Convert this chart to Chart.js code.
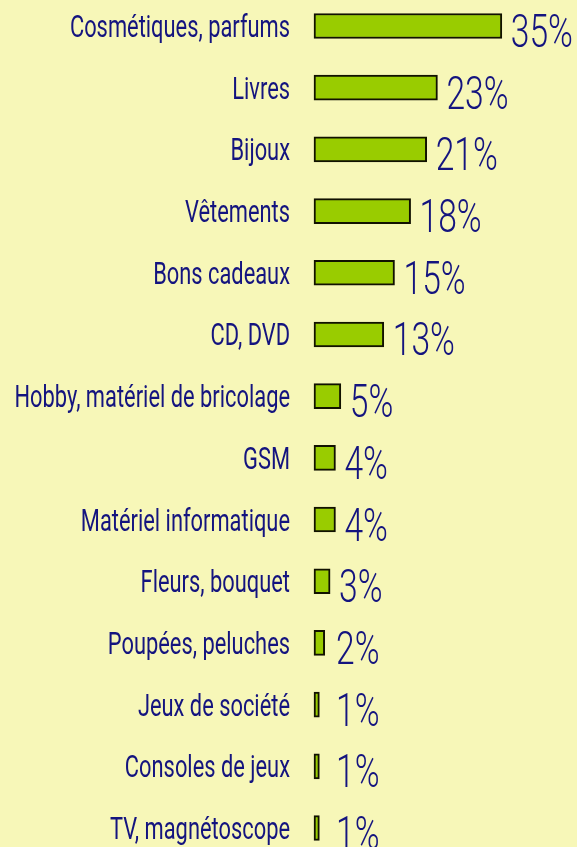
<!DOCTYPE html>
<html>
<head>
<meta charset="utf-8">
<script src="https://cdn.jsdelivr.net/npm/chart.js@4/dist/chart.umd.min.js"></script>
<style>
  html, body { margin: 0; padding: 0; background: #f7f7b8; }
  #wrap { width: 577px; height: 847px; }
</style>
</head>
<body>
<div id="wrap"><canvas id="chart"></canvas></div>
<script>
(function() {
    'use strict';

    // Data
    const categories = [
        'Cosmétiques, parfums', 'Livres', 'Bijoux', 'Vêtements', 'Bons cadeaux',
        'CD, DVD', 'Hobby, matériel de bricolage', 'GSM', 'Matériel informatique',
        'Fleurs, bouquet', 'Poupées, peluches', 'Jeux de société',
        'Consoles de jeux', 'TV, magnétoscope'
    ];
    const shares = [35, 23, 21, 18, 15, 13, 5, 4, 4, 3, 2, 1, 1, 1];

    const NAVY = '#14147f';
    const LABEL_FONT = '31px Roboto, "DejaVu Sans Condensed", sans-serif';
    const VALUE_FONT = '300 46px Roboto, "DejaVu Sans Condensed", sans-serif';

    function squeezedText(ctx, text, x, y, font, squeeze, align) {
        ctx.save();
        ctx.font = font;
        ctx.fillStyle = NAVY;
        ctx.textBaseline = 'alphabetic';
        ctx.textAlign = align;
        ctx.translate(x, y);
        ctx.scale(squeeze, 1);
        ctx.fillText(text, 0, 0);
        ctx.restore();
    }

    // category names and percentages, drawn from the scales
    const labelPlugin = {
        id: 'labels',
        afterDatasetsDraw(chart) {
            const ctx = chart.ctx;
            const yScale = chart.scales.y;
            const meta = chart.getDatasetMeta(0);
            categories.forEach(function(name, i) {
                const y = yScale.getPixelForValue(i);
                squeezedText(ctx, name, yScale.right - 24, y + 11, LABEL_FONT, 0.705, 'right');
                const bar = meta.data[i];
                const x = Math.max(bar.x + 9, yScale.right + 22);
                squeezedText(ctx, shares[i] + '%', x, y + 21, VALUE_FONT, 0.73, 'left');
            });
        }
    };

    new Chart(document.getElementById('chart'), {
        type: 'bar',
        data: {
            labels: categories,
            datasets: [{
                data: shares,
                backgroundColor: '#99cc00',
                borderColor: '#111100',
                borderWidth: 2,
                borderSkipped: false,
                barThickness: 25,
                clip: false
            }]
        },
        options: {
            indexAxis: 'y',
            responsive: true,
            maintainAspectRatio: false,
            animation: false,
            layout: { padding: { top: 26, bottom: 19, left: 0, right: 0 } },
            plugins: {
                legend: { display: false },
                tooltip: { enabled: false }
            },
            scales: {
                x: {
                    display: false,
                    min: 0,
                    max: 49
                },
                y: {
                    offset: false,
                    grid: { display: false },
                    border: { display: false },
                    ticks: { display: false },
                    afterFit(scale) { scale.width = 314; }
                }
            }
        },
        plugins: [labelPlugin]
    });
})();
</script>
</body>
</html>
